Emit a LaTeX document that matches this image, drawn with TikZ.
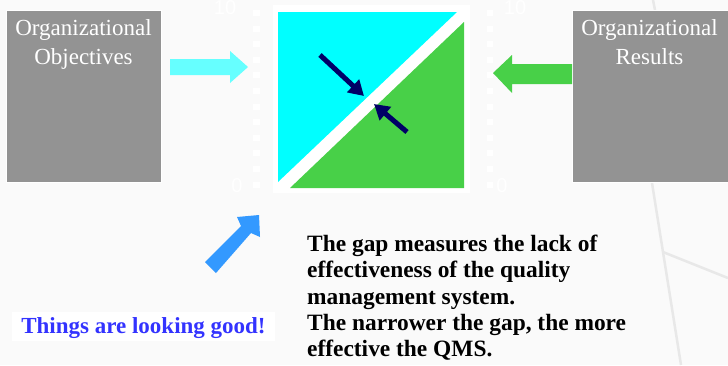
\documentclass[tikz,border=0pt]{standalone}
\usepackage{fontspec}
\setmainfont{Liberation Serif}
\newfontfamily\axisfont{Liberation Sans}
\usetikzlibrary{arrows.meta}
\definecolor{bg}{HTML}{FAFAFA}
\definecolor{boxgray}{HTML}{939393}
\definecolor{cyanfill}{HTML}{00FFFF}
\definecolor{cyanarrow}{HTML}{66FFFF}
\definecolor{greenfill}{HTML}{48D048}
\definecolor{navyarrow}{HTML}{000066}
\definecolor{bluearrow}{HTML}{3399FF}
\definecolor{bluetext}{HTML}{3333FF}
\definecolor{decoline}{HTML}{E8E8E8}
\tikzset{
  x=1pt, y=-1pt,
  graybox/.style={fill=boxgray, draw=white, line width=0.8pt},
  boxtitle/.style={text=white, font=\fontsize{23}{29}\selectfont, align=center, inner sep=0pt},
  gaparrow/.style={draw=navyarrow, line width=5pt, -{Triangle[length=15pt,width=17pt]}},
  axislabel/.style={text=white, font=\axisfont\fontsize{20}{20}\selectfont, inner sep=0pt},
  tick/.style={fill=white, draw=none},
  bodytext/.style={font=\bfseries\fontsize{23.4}{26.3}\selectfont, align=left, inner sep=0pt, anchor=north west}
}
\begin{document}
\begin{tikzpicture}
\useasboundingbox (0,0) rectangle (728,365);
\fill[bg] (0,0) rectangle (728,365);
% decorative background lines
\draw[decoline, line width=2.5pt] (652,183) -- (681,365);
\draw[decoline, line width=2.5pt] (663,252) -- (728,278);
\draw[decoline, line width=2.5pt] (653,0) -- (655,10);
% axis ticks
\foreach \i in {0,...,11} {
  \fill[tick] (253,{10+\i*15.6}) rectangle (260,{16+\i*15.6});
  \fill[tick] (487,{10+\i*15.6}) rectangle (493,{16+\i*15.6});
}
\node[axislabel] (l10) at (225,8) {10};
\node[axislabel] (l0) at (237,186) {0};
\node[axislabel] (r10) at (515,8) {10};
\node[axislabel] (r0) at (502,186) {0};
% boxes
\draw[graybox] (6,10) rectangle (161,182);
\node[boxtitle, anchor=north] (obj) at (83.5,19) {Organizational\\Objectives};
\draw[graybox] (572,10) rectangle (729,182);
\node[boxtitle, anchor=north] (res) at (649.5,19) {Organizational\\Results};
% square
\fill[white] (273,5) rectangle (470,193);
\fill[cyanfill] (278,12) -- (457,12) -- (278,182) -- cycle;
\fill[greenfill] (464,22) -- (464,188) -- (290,188) -- cycle;
% block arrows
\fill[cyanarrow] (170,59) -- (230,59) -- (230,51) -- (248,67) -- (230,83) -- (230,75) -- (170,75) -- cycle;
\fill[greenfill] (572,64) -- (512,64) -- (512,55) -- (493,73) -- (512,93) -- (512,84) -- (572,84) -- cycle;
\fill[bluearrow] (205,262) -- (241,226) -- (237,217) -- (259,215) -- (260,237) -- (251,233) -- (216,273) -- cycle;
% gap arrows
\coordinate (a1s) at (320,55);
\coordinate (a1e) at (364,96);
\coordinate (a2s) at (407,132);
\coordinate (a2e) at (374,104);
\draw[gaparrow] (a1s) -- (a1e);
\draw[gaparrow] (a2s) -- (a2e);
% texts
\fill[white] (12,312) rectangle (275,341);
\node[font=\bfseries\fontsize{23}{26}\selectfont, text=bluetext, inner sep=0pt] (good) at (143.5,328) {Things are looking good!};
\node[bodytext] (gap) at (307,235) {The gap measures the lack of\\effectiveness of the quality\\management system.\\The narrower the gap, the more\\effective the QMS.};
\end{tikzpicture}
\end{document}
